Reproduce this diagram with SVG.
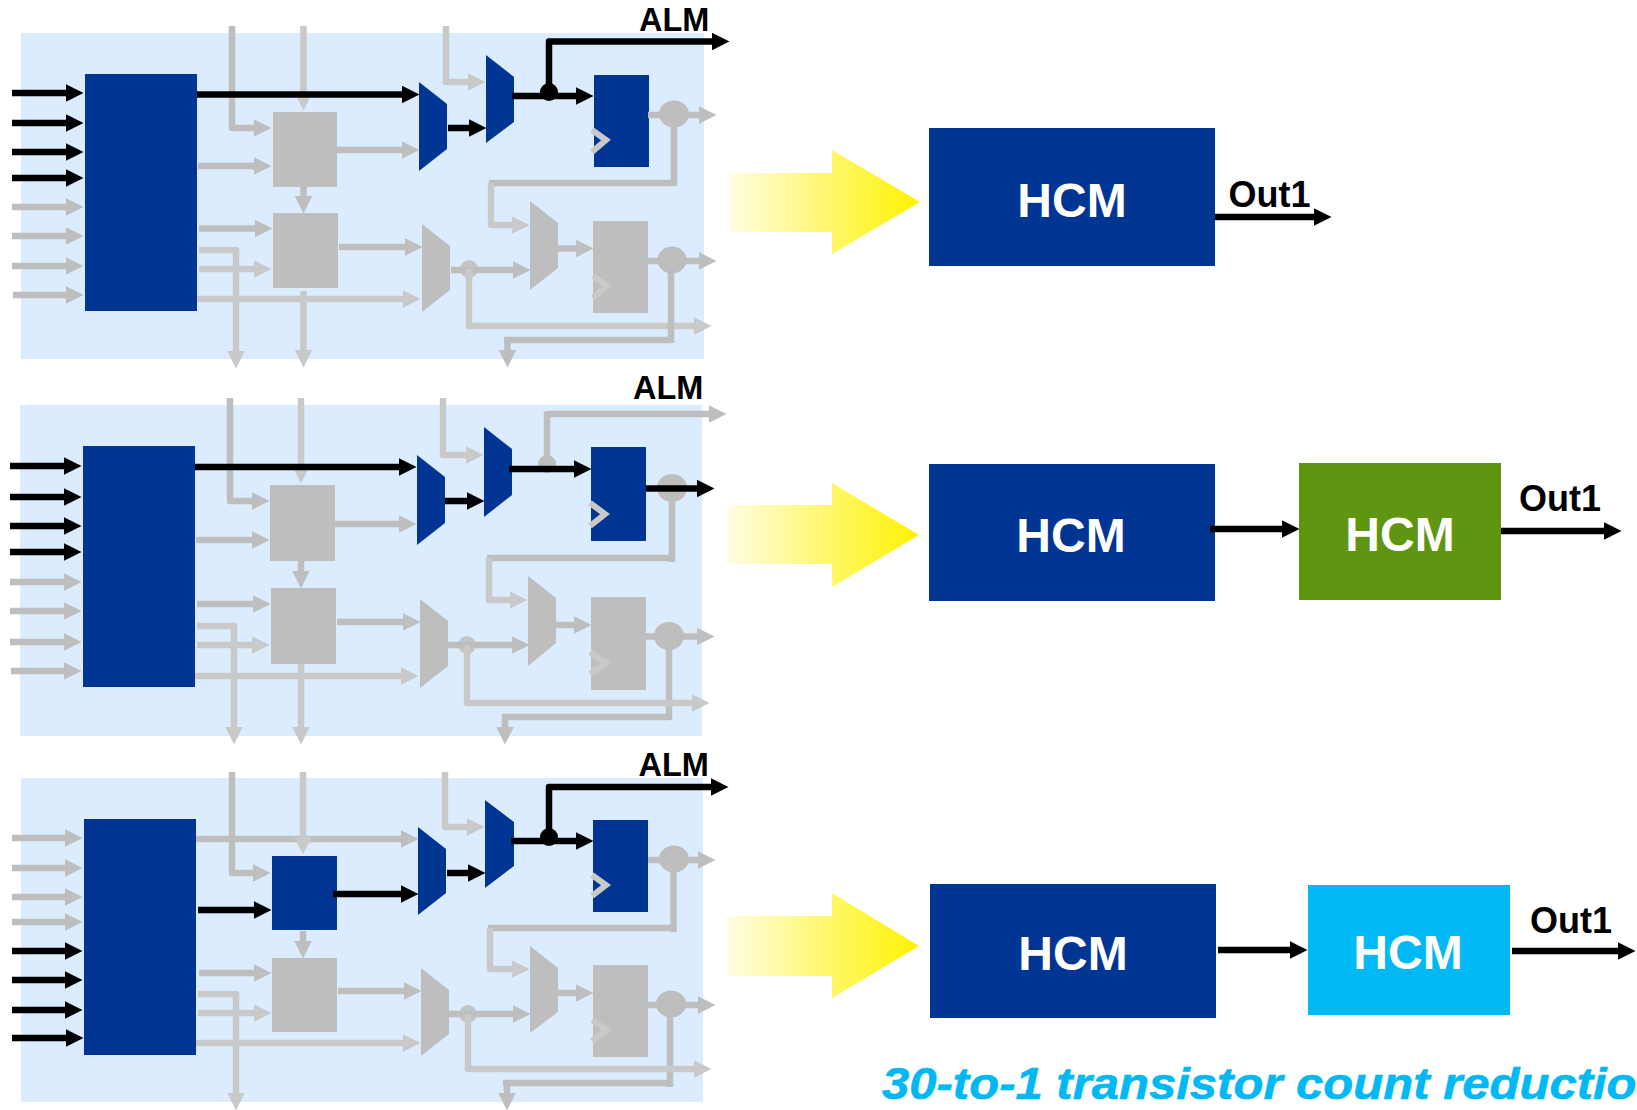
<svg xmlns="http://www.w3.org/2000/svg" width="1637" height="1110" viewBox="0 0 1637 1110">
<style>
.bg{fill:#dbecfe}
.b{fill:#003594}
.g{fill:#bdbebd}
.c{fill:none;stroke:#c9c9c9;stroke-width:6}
.k,.d,.l,.kn,.dn,.ln{fill:none;stroke-width:6.5;stroke-linejoin:round}
.k,.kn{stroke:#000}
.d,.dn{stroke:#bdbebd}
.l,.ln{stroke:#c9c9c9}
.k{marker-end:url(#mk)}
.d{marker-end:url(#md)}
.l{marker-end:url(#ml)}
text{font-family:"Liberation Sans",Arial,sans-serif;font-weight:700}
.alm{font-size:32.5px;fill:#000}
.out{font-size:36px;fill:#000}
.hcm{font-size:48px;fill:#fff;text-anchor:middle}
.tag{font-size:45px;font-style:italic;fill:#00b9f4;stroke:#00b9f4;stroke-width:.6}
.ya{fill:url(#yg)}
</style>
<defs>
<marker id="mk" markerUnits="userSpaceOnUse" markerWidth="18" markerHeight="18" refX="0.5" refY="9" orient="auto"><polygon points="0,0 18,9 0,18" fill="#000"/></marker>
<marker id="md" markerUnits="userSpaceOnUse" markerWidth="18" markerHeight="18" refX="0.5" refY="9" orient="auto"><polygon points="0,0 18,9 0,18" fill="#bdbebd"/></marker>
<marker id="ml" markerUnits="userSpaceOnUse" markerWidth="18" markerHeight="18" refX="0.5" refY="9" orient="auto"><polygon points="0,0 18,9 0,18" fill="#c9c9c9"/></marker>
<linearGradient id="yg" x1="0" x2="1" y1="0" y2="0"><stop offset="0" stop-color="#fffde2"/><stop offset="1" stop-color="#fff200"/></linearGradient>
</defs>

<g id="panels">
<rect class="bg" x="21" y="33" width="683" height="326"/>
<rect class="bg" x="20" y="405" width="682" height="331"/>
<rect class="bg" x="21" y="778" width="682" height="324"/>
</g>

<g id="p1-decoder"><rect class="b" x="85" y="74" width="112" height="237"/></g>
<g id="p1-lut-a"><rect class="g" x="273" y="112" width="64" height="75"/></g>
<g id="p1-lut-b"><rect class="g" x="273" y="213" width="65" height="75"/></g>
<g id="p1-mux1"><polygon class="b" points="419,82 447,104 447,149 419,171"/></g>
<g id="p1-mux2"><polygon class="b" points="486,55 514,77 514,122 486,143"/></g>
<g id="p1-mux3"><polygon class="g" points="422,224 450,246 450,290 422,312"/></g>
<g id="p1-mux4"><polygon class="g" points="530,201 558,223 558,268 530,290"/></g>
<g id="p1-reg1"><rect class="b" x="594" y="75" width="55" height="92"/><polyline class="c" points="592,130 606,140 592,152"/></g>
<g id="p1-reg2"><rect class="g" x="593" y="221" width="55" height="92"/><polyline class="c" points="593,276 607,286 593,298"/></g>
<g id="p1-junctions">
<circle cx="549" cy="92" r="9" fill="#000"/>
<ellipse class="g" cx="674" cy="114" rx="15" ry="13.5"/>
<ellipse class="g" cx="672" cy="260" rx="14.5" ry="13.5"/>
<circle cx="469" cy="269" r="9" fill="#c4c5c5"/>
</g>

<g id="p2-decoder"><rect class="b" x="83" y="446" width="112" height="241"/></g>
<g id="p2-lut-a"><rect class="g" x="270" y="485" width="65" height="76"/></g>
<g id="p2-lut-b"><rect class="g" x="271" y="588" width="65" height="76"/></g>
<g id="p2-mux1"><polygon class="b" points="417,455 445,477 445,523 417,545"/></g>
<g id="p2-mux2"><polygon class="b" points="484,427 512,449 512,495 484,517"/></g>
<g id="p2-mux3"><polygon class="g" points="420,599 448,621 448,666 420,688"/></g>
<g id="p2-mux4"><polygon class="g" points="528,576 556,598 556,643 528,666"/></g>
<g id="p2-reg1"><rect class="b" x="591" y="447" width="55" height="94"/><polyline class="c" points="590,503 605,514 590,526"/></g>
<g id="p2-reg2"><rect class="g" x="591" y="597" width="55" height="93"/><polyline class="c" points="590,652 606,663 590,674"/></g>
<g id="p2-junctions">
<circle cx="547" cy="464" r="9" fill="#bdbebd"/>
<ellipse class="g" cx="672" cy="488" rx="15" ry="14"/>
<ellipse class="g" cx="669" cy="636" rx="15" ry="14"/>
<circle cx="467" cy="645" r="9" fill="#c4c5c5"/>
</g>

<g id="p3-decoder"><rect class="b" x="84" y="819" width="112" height="236"/></g>
<g id="p3-lut-a"><rect class="b" x="272" y="856" width="65" height="74"/></g>
<g id="p3-lut-b"><rect class="g" x="272" y="958" width="65" height="74"/></g>
<g id="p3-mux1"><polygon class="b" points="418,827 446,849 446,893 418,915"/></g>
<g id="p3-mux2"><polygon class="b" points="485,800 514,822 514,866 485,888"/></g>
<g id="p3-mux3"><polygon class="g" points="421,968 449,990 449,1034 421,1056"/></g>
<g id="p3-mux4"><polygon class="g" points="530,946 558,968 558,1012 530,1033"/></g>
<g id="p3-reg1"><rect class="b" x="593" y="820" width="55" height="92"/><polyline class="c" points="592,875 606,885 592,896"/></g>
<g id="p3-reg2"><rect class="g" x="593" y="965" width="55" height="92"/><polyline class="c" points="592,1020 607,1030 592,1041"/></g>
<g id="p3-junctions">
<circle cx="549" cy="837" r="9" fill="#000"/>
<ellipse class="g" cx="674" cy="859" rx="15" ry="13.5"/>
<ellipse class="g" cx="671" cy="1004" rx="15" ry="13.5"/>
<circle cx="468" cy="1014" r="9" fill="#c4c5c5"/>
</g>

<g id="hcm1-row">
<polygon class="ya" points="729,173 832,173 832,150 920,202 832,254 832,232 729,232"/>
<g id="hcm1"><rect class="b" x="929" y="128" width="286" height="138"/><text class="hcm" x="1072" y="217">HCM</text></g>
</g>
<g id="hcm2-row">
<polygon class="ya" points="728,505 832,505 832,483 919,535 832,587 832,564 728,564"/>
<g id="hcm2a"><rect class="b" x="929" y="464" width="286" height="137"/><text class="hcm" x="1071" y="552">HCM</text></g>
<g id="hcm2b"><rect x="1299" y="463" width="202" height="137" fill="#5f9510"/><text class="hcm" x="1400" y="551">HCM</text></g>
</g>
<g id="hcm3-row">
<polygon class="ya" points="728,916 832,916 832,893 919,946 832,998 832,976 728,976"/>
<g id="hcm3a"><rect class="b" x="930" y="884" width="286" height="134"/><text class="hcm" x="1073" y="970">HCM</text></g>
<g id="hcm3b"><rect x="1308" y="885" width="202" height="130" fill="#00b9f4"/><text class="hcm" x="1408" y="969">HCM</text></g>
</g>

<g id="connectors">
<!-- panel 1 -->
<path class="d" d="M12 207H66"/><path class="d" d="M12 236H66"/><path class="d" d="M12 266H66"/><path class="d" d="M13 295H66"/>
<path class="d" d="M232 26V128H254"/>
<path class="l" d="M303.5 26V93"/>
<path class="d" d="M198 166H254"/>
<path class="d" d="M337 150H402"/>
<path class="d" d="M303.5 187V196"/>
<path class="d" d="M199 228.5H255"/>
<path class="d" d="M339 247H405"/>
<path class="l" d="M199 250H236V351"/>
<path class="l" d="M199 269H254"/>
<path class="l" d="M197 299H403"/>
<path class="l" d="M303.5 291V350"/>
<path class="l" d="M446 26V82H468"/>
<path class="d" d="M648 115H699"/>
<path class="dn" d="M674 115V186M674 183H489"/>
<path class="l" d="M491 183V225H512"/>
<path class="d" d="M451 270H513"/>
<path class="l" d="M469 269V326H694"/>
<path class="d" d="M558 248.5H576"/>
<path class="d" d="M648 261H699"/>
<path class="dn" d="M671 260V343M672 340H504"/>
<path class="d" d="M507.5 340V350"/>
<path class="k" d="M12 93H66"/><path class="k" d="M12 123H66"/><path class="k" d="M12 152H66"/><path class="k" d="M12 178H66"/>
<path class="k" d="M197 94.5H402"/>
<path class="k" d="M448 128H469"/>
<path class="k" d="M512 96H576"/>
<path class="k" d="M549 92V41.5H712"/>
<!-- panel 2 -->
<path class="d" d="M10 582H64"/><path class="d" d="M10 611H64"/><path class="d" d="M10 642H64"/><path class="d" d="M11 671H64"/>
<path class="d" d="M230 398V501H252"/>
<path class="l" d="M301 398V466"/>
<path class="d" d="M196 540H252"/>
<path class="d" d="M335 524H399"/>
<path class="d" d="M301 561V571"/>
<path class="d" d="M197 604H253"/>
<path class="d" d="M337 622H403"/>
<path class="l" d="M197 626H234V727"/>
<path class="l" d="M197 645H252"/>
<path class="l" d="M195 676H401"/>
<path class="l" d="M301 664V727"/>
<path class="l" d="M443 398V455H466"/>
<path class="d" d="M547 464V414H709"/>
<path class="dn" d="M672 488V562M672 558H487"/>
<path class="l" d="M489 558V600H510"/>
<path class="d" d="M556 625H574"/>
<path class="d" d="M646 636.5H697"/>
<path class="dn" d="M669 636V720M669 717H502"/>
<path class="d" d="M505 717V727"/>
<path class="d" d="M448 645H512"/>
<path class="l" d="M467 645V703H692"/>
<path class="k" d="M10 466H64"/><path class="k" d="M10 497H64"/><path class="k" d="M10 526H64"/><path class="k" d="M10 552H64"/>
<path class="k" d="M195 467H399"/>
<path class="k" d="M445 501H467"/>
<path class="k" d="M509 469H574"/>
<path class="k" d="M646 488.5H697"/>
<!-- panel 3 -->
<path class="d" d="M12 838H65"/><path class="d" d="M12 868H65"/><path class="d" d="M12 897H65"/><path class="d" d="M12 922H65"/>
<path class="d" d="M196 839H401"/>
<path class="d" d="M232 772V873H253"/>
<path class="l" d="M303 772V837"/>
<path class="d" d="M303 931V941"/>
<path class="d" d="M199 973H254"/>
<path class="d" d="M338 991H404"/>
<path class="l" d="M198 994H236V1093"/>
<path class="l" d="M198 1013H254"/>
<path class="l" d="M196 1043H403"/>
<path class="l" d="M445 772V827H467"/>
<path class="d" d="M648 860H698"/>
<path class="dn" d="M673.5 859V932M674 928H488"/>
<path class="l" d="M490 928V969H512"/>
<path class="d" d="M558 993H576"/>
<path class="d" d="M648 1005H698"/>
<path class="dn" d="M670 1004V1087M670 1083H503"/>
<path class="d" d="M507 1083V1093"/>
<path class="d" d="M449 1014H513"/>
<path class="l" d="M468 1014V1069H694"/>
<path class="k" d="M12 951H65"/><path class="k" d="M12 980H65"/><path class="k" d="M12 1010H65"/><path class="k" d="M12 1038H66"/>
<path class="k" d="M198 910H254"/>
<path class="k" d="M333 894H401"/>
<path class="k" d="M447 873H468"/>
<path class="k" d="M511 841H576"/>
<path class="k" d="M549 837V787H711"/>
<!-- hcm rows -->
<path class="k" d="M1215 217H1314"/>
<path class="k" d="M1210 529H1282"/>
<path class="k" d="M1501 531H1604"/>
<path class="k" d="M1218 950H1290"/>
<path class="k" d="M1512 951H1618"/>
</g>

<g id="labels">
<text class="alm" x="639" y="31">ALM</text>
<text class="alm" x="633" y="399">ALM</text>
<text class="alm" x="638.5" y="776">ALM</text>
<text class="out" x="1228.5" y="207">Out1</text>
<text class="out" x="1519" y="511">Out1</text>
<text class="out" x="1530" y="933">Out1</text>
<text class="tag" transform="translate(882 1099) scale(1.09 1)">30-to-1 transistor count reductio</text>
</g>
</svg>
